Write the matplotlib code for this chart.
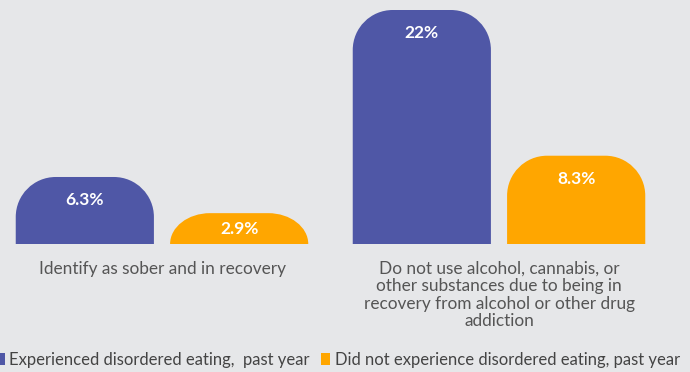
import numpy as np
import matplotlib
matplotlib.use("Agg")
import matplotlib.pyplot as plt
from matplotlib.path import Path
from matplotlib.patches import PathPatch, Patch

# data
categories = ["Identify as sober and in recovery",
              "Do not use alcohol, cannabis, or\nother substances due to being in\nrecovery from alcohol or other drug\naddiction"]
series_names = ["Experienced disordered eating,  past year",
                "Did not experience disordered eating, past year"]
experienced = [6.3, 22]
not_experienced = [2.9, 8.3]
value_labels = [["6.3%", "22%"], ["2.9%", "8.3%"]]

colors = ["#4f57a6", "#ffa600"]
bg = "#e6e7e9"

plt.rcParams['font.family'] = ['Lato', 'DejaVu Sans']

fig = plt.figure(figsize=(6.9, 3.72), dpi=100, facecolor=bg)
ax = fig.add_axes([0, 128 / 372, 1, 234 / 372])
ax.set_facecolor(bg)
ax.set_xlim(-162 / 337, (690 - 162) / 337)
ax.set_ylim(0, 22)
ax.axis("off")

width = 0.41
offset = 0.229
px_x = 337.0           # pixels per x unit
px_y = 234 / 22.0      # pixels per y unit


def rounded_bar(ax, xc, h, w, color, r_px=40):
    rx = min(r_px / px_x, w / 2)
    ry = min(r_px / px_y, h)
    x0, x1 = xc - w / 2, xc + w / 2
    k = 0.5523
    verts = [(x0, 0), (x0, h - ry),
             (x0, h - ry + k * ry), (x0 + rx - k * rx, h), (x0 + rx, h),
             (x1 - rx, h),
             (x1 - rx + k * rx, h), (x1, h - ry + k * ry), (x1, h - ry),
             (x1, 0), (x0, 0)]
    codes = [Path.MOVETO, Path.LINETO,
             Path.CURVE4, Path.CURVE4, Path.CURVE4,
             Path.LINETO,
             Path.CURVE4, Path.CURVE4, Path.CURVE4,
             Path.LINETO, Path.CLOSEPOLY]
    ax.add_patch(PathPatch(Path(verts, codes), facecolor=color, edgecolor="none", clip_on=False))


x = np.arange(len(categories))
for si, vals in enumerate([experienced, not_experienced]):
    for i, v in enumerate(vals):
        xc = x[i] + (-offset if si == 0 else offset)
        rounded_bar(ax, xc, v, width, colors[si])
        ty = v - 2.2 if v > 5 else v / 2
        ax.text(xc, ty, value_labels[si][i], ha="center", va="center",
                color="white", fontsize=12.5, fontweight="bold")

for i, cat in enumerate(categories):
    ax.text(x[i], -1.6, cat, ha="center", va="top", color="#555555",
            fontsize=12.4, linespacing=1.1, clip_on=False)

handles = [Patch(facecolor=c, edgecolor="none") for c in colors]
fig.legend(handles, series_names, loc="lower left", bbox_to_anchor=(-0.028, -0.03),
           ncol=2, frameon=False, fontsize=12, handlelength=0.55, handleheight=0.75,
           handletextpad=0.25, columnspacing=0.7, labelcolor="#444444")

fig.savefig("out.png", dpi=100, facecolor=bg)
